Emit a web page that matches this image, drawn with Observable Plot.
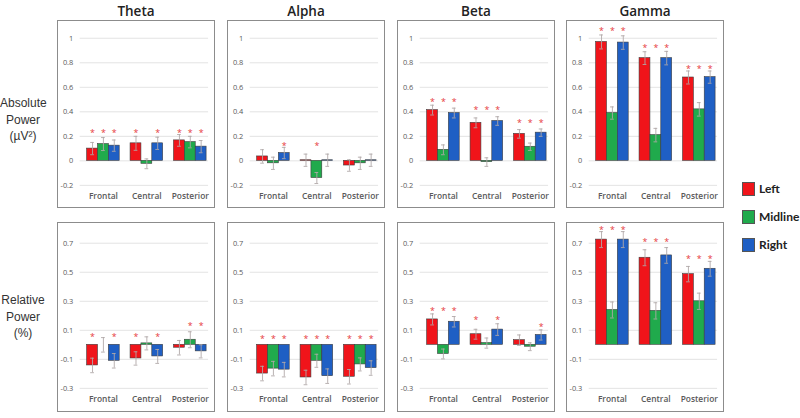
<!DOCTYPE html>
<html><head><meta charset="utf-8">
<script src="https://cdn.jsdelivr.net/npm/d3@7"></script>
<script src="https://cdn.jsdelivr.net/npm/@observablehq/plot@0.6"></script>
<style>
body{margin:0;background:#fff;}
#chart{position:relative;width:800px;height:418px;font-family:"Open Sans",sans-serif;overflow:hidden;}
.panel{position:absolute;border:1px solid #8c8c8c;box-sizing:border-box;}
.panel svg{position:absolute;left:-1px;top:-1px;overflow:visible;background:transparent;}
.panel svg [aria-label^="y-axis"] text{font-size:7.5px;fill:#595959;}
.panel svg [aria-label^="x-axis"] text{font-size:8.5px;font-weight:600;fill:#595959;}
.ctitle{position:absolute;width:158px;text-align:center;font-size:13.5px;font-weight:600;color:#222;top:2px;}
.rlabel{position:absolute;width:46px;text-align:center;font-family:"Liberation Sans",Arial,sans-serif;font-size:12px;line-height:16.5px;color:#333;}
.leg{position:absolute;left:742px;height:14px;font-family:Lato,sans-serif;font-size:12px;font-weight:700;color:#222;}
.leg span.sw{position:absolute;left:0;top:0;width:11px;height:12px;border:1px solid #555;}
.leg span.tx{position:absolute;left:17px;top:-1px;white-space:nowrap;}
</style></head><body><div id="chart"></div>
<script>
// categories
const bandNames = ["Theta", "Alpha", "Beta", "Gamma"];
const regions = ["Frontal", "Central", "Posterior"];
const sides = ["Left", "Midline", "Right"];
const sideColors = ["#f0141a", "#20aa4c", "#1f5fc4"];
const rowLabels = [["Absolute", "Power", "(µV²)"], ["Relative", "Power", "(%)"]];
const absTicks = [-0.2, 0, 0.2, 0.4, 0.6, 0.8, 1];
const relTicks = [-0.3, -0.1, 0.1, 0.3, 0.5, 0.7];

// Absolute power (values ordered Frontal L,M,R, Central L,M,R, Posterior L,M,R)
const absTheta = [0.10, 0.137, 0.124, 0.143, -0.024, 0.143, 0.167, 0.153, 0.116];
const absThetaErr = [0.05, 0.053, 0.046, 0.057, 0.04, 0.05, 0.048, 0.047, 0.05];
const absThetaSig = [1, 1, 1, 1, 0, 1, 1, 1, 1];
const absThetaStar = [0.253, 0.253, 0.253];

const absAlpha = [0.036, -0.02, 0.064, 0.005, -0.14, 0.005, -0.038, -0.02, 0.005];
const absAlphaErr = [0.055, 0.05, 0.046, 0.05, 0.045, 0.05, 0.047, 0.05, 0.05];
const absAlphaSig = [0, 0, 1, 0, 1, 0, 0, 0, 0];
const absAlphaStar = [0.145, 0.145, 0.145];

const absBeta = [0.414, 0.09, 0.39, 0.31, -0.01, 0.325, 0.22, 0.115, 0.23];
const absBetaErr = [0.04, 0.04, 0.04, 0.04, 0.035, 0.035, 0.035, 0.03, 0.03];
const absBetaSig = [1, 1, 1, 1, 1, 1, 1, 1, 1];
const absBetaStar = [0.50, 0.435, 0.328];

const absGamma = [0.97, 0.39, 0.965, 0.838, 0.21, 0.838, 0.68, 0.42, 0.683];
const absGammaErr = [0.057, 0.05, 0.055, 0.052, 0.055, 0.055, 0.053, 0.055, 0.05];
const absGammaSig = [1, 1, 1, 1, 1, 1, 1, 1, 1];
const absGammaStar = [1.086, 0.946, 0.77];

// Relative power
const relTheta = [-0.142, 0.0, -0.11, -0.094, 0.01, -0.08, -0.02, 0.035, -0.045];
const relThetaErr = [0.05, 0.05, 0.05, 0.046, 0.045, 0.048, 0.05, 0.055, 0.045];
const relThetaSig = [1, 0, 1, 1, 0, 1, 0, 1, 1];
const relThetaStar = [0.073, 0.073, 0.146];

const relAlpha = [-0.198, -0.164, -0.171, -0.225, -0.11, -0.216, -0.22, -0.135, -0.16];
const relAlphaErr = [0.05, 0.05, 0.05, 0.05, 0.045, 0.05, 0.05, 0.045, 0.05];
const relAlphaSig = [1, 1, 1, 1, 1, 1, 1, 1, 1];
const relAlphaStar = [0.062, 0.062, 0.062];

const relBeta = [0.175, -0.063, 0.159, 0.073, 0.012, 0.105, 0.032, -0.013, 0.068];
const relBetaErr = [0.038, 0.034, 0.036, 0.034, 0.035, 0.04, 0.036, 0.027, 0.035];
const relBetaSig = [1, 1, 1, 1, 0, 1, 0, 0, 1];
const relBetaStar = [0.249, 0.19, 0.14];

const relGamma = [0.725, 0.24, 0.725, 0.60, 0.234, 0.616, 0.487, 0.30, 0.524];
const relGammaErr = [0.055, 0.055, 0.055, 0.055, 0.056, 0.054, 0.053, 0.056, 0.051];
const relGammaSig = [1, 1, 1, 1, 1, 1, 1, 1, 1];
const relGammaStar = [0.808, 0.725, 0.61];

const rows = [
  {panels: [[absTheta, absThetaErr, absThetaSig, absThetaStar], [absAlpha, absAlphaErr, absAlphaSig, absAlphaStar],
            [absBeta, absBetaErr, absBetaSig, absBetaStar], [absGamma, absGammaErr, absGammaSig, absGammaStar]],
   ticks: absTicks, domain: [-0.2, 1], top: 20, h: 188, mt: 18, mb: 21},
  {panels: [[relTheta, relThetaErr, relThetaSig, relThetaStar], [relAlpha, relAlphaErr, relAlphaSig, relAlphaStar],
            [relBeta, relBetaErr, relBetaSig, relBetaStar], [relGamma, relGammaErr, relGammaSig, relGammaStar]],
   ticks: relTicks, domain: [-0.3, 0.7], top: 222, h: 190, mt: 21, mb: 22}
];
const panelLefts = [57, 227, 397, 566];
const W = 158;

// x domain: each bar key, with a spacer slot between region groups
const xDomain = [];
regions.forEach((r, ri) => {
  sides.forEach(s => xDomain.push(r + "|" + s));
  if (ri < regions.length - 1) xDomain.push("gap" + ri);
});

const chart = document.getElementById("chart");

function makePanel(vals, errs, sig, stars, row) {
  const data = vals.map((v, i) => ({
    key: regions[Math.floor(i / 3)] + "|" + sides[i % 3],
    side: sides[i % 3],
    v, lo: v - errs[i], hi: v + errs[i],
    sig: sig[i], star: stars[Math.floor(i / 3)]
  }));
  return Plot.plot({
    width: W, height: row.h,
    marginLeft: 23, marginRight: 5, marginTop: row.mt, marginBottom: row.mb,
    style: {background: "transparent", overflow: "visible", fontFamily: "Open Sans, sans-serif"},
    x: {type: "band", domain: xDomain, padding: 0, insetLeft: 5, insetRight: 1,
        tickSize: 0, tickPadding: 8, label: null,
        tickFormat: d => d.endsWith("|Midline") ? d.split("|")[0] : ""},
    y: {domain: row.domain, ticks: row.ticks, tickSize: 0, tickPadding: 7, label: null,
        tickFormat: d => String(d)},
    color: {domain: sides, range: sideColors},
    marks: [
      Plot.ruleY(row.ticks, {stroke: "#dcdcdc", strokeWidth: 0.8}),
      Plot.barY(data, {x: "key", y: "v", fill: "side", stroke: "#3c3c3c", strokeWidth: 0.6}),
      Plot.ruleX(data, {x: "key", y1: "lo", y2: "hi", stroke: "#b0a8a8", strokeWidth: 0.9}),
      Plot.tickY(data, {x: "key", y: "hi", stroke: "#b0a8a8", strokeWidth: 0.9, insetLeft: 3.6, insetRight: 3.6}),
      Plot.tickY(data, {x: "key", y: "lo", stroke: "#b0a8a8", strokeWidth: 0.9, insetLeft: 3.6, insetRight: 3.6}),
      Plot.text(data.filter(d => d.sig), {x: "key", y: "star", text: () => "*", fill: "#e6393c", fontSize: 9, dy: 3})
    ]
  });
}

rows.forEach((row, ri) => {
  row.panels.forEach((p, ci) => {
    const div = document.createElement("div");
    div.className = "panel";
    div.style.left = panelLefts[ci] + "px";
    div.style.top = row.top + "px";
    div.style.width = W + "px";
    div.style.height = row.h + "px";
    div.appendChild(makePanel(p[0], p[1], p[2], p[3], row));
    chart.appendChild(div);
  });
  const lab = document.createElement("div");
  lab.className = "rlabel";
  lab.style.left = "0px";
  lab.style.top = (ri === 0 ? 95 : 292) + "px";
  lab.innerHTML = rowLabels[ri].join("<br>");
  chart.appendChild(lab);
});

bandNames.forEach((b, i) => {
  const t = document.createElement("div");
  t.className = "ctitle";
  t.style.left = panelLefts[i] + "px";
  t.textContent = b;
  chart.appendChild(t);
});

sides.forEach((s, i) => {
  const l = document.createElement("div");
  l.className = "leg";
  l.style.top = (182 + i * 28) + "px";
  l.innerHTML = `<span class="sw" style="background:${sideColors[i]}"></span><span class="tx">${s}</span>`;
  chart.appendChild(l);
});
</script></body></html>
